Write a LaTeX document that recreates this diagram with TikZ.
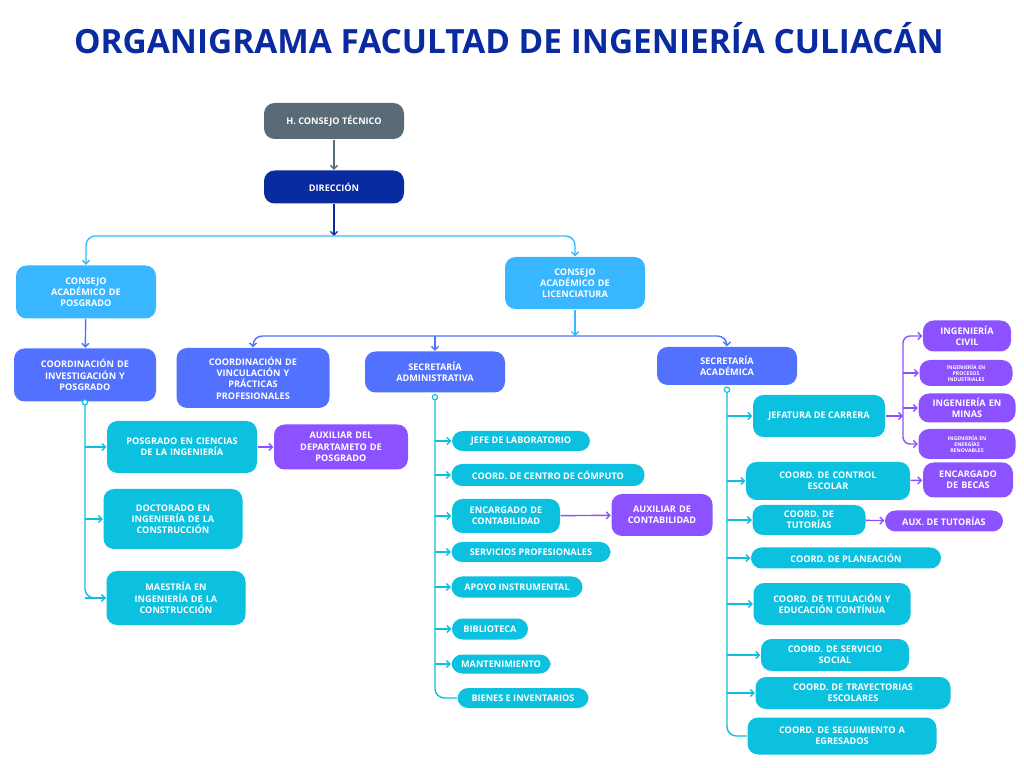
\documentclass[tikz,border=0pt]{standalone}
\usepackage{fontspec}
\setmainfont{Open Sans}
\usetikzlibrary{arrows.meta}
\definecolor{grayb}{HTML}{5A6B78}
\definecolor{navyb}{HTML}{0A2AA0}
\definecolor{skyb}{HTML}{38B6FF}
\definecolor{perib}{HTML}{5271FF}
\definecolor{cyanb}{HTML}{0CC0DF}
\definecolor{purpb}{HTML}{8C52FF}
\begin{document}
\begin{tikzpicture}[x=0.03cm, y=-0.03cm, line width = 1.2pt,
                    >={Straight Barb[length=3pt,width=6pt]},
                    box/.style = {rounded corners=9pt, text=white, align=center,
                                  font=\bfseries\fontsize{7.8}{9.6}\selectfont, inner sep=1pt},
                    grey box/.style = {box, fill=grayb},
                    navy box/.style = {box, fill=navyb},
                    sky box/.style = {box, fill=skyb},
                    peri box/.style = {box, fill=perib},
                    cyan box/.style = {box, fill=cyanb},
                    purple box/.style = {box, fill=purpb},
                    tiny/.style = {font=\bfseries\fontsize{4.4}{5.4}\selectfont},
                    dot/.style = {circle, draw=cyanb, fill=white, line width=1pt, inner sep=1.6pt}]
      \useasboundingbox (0,0) rectangle (1024,768);
      \node [text=navyb, font=\bfseries\fontsize{28.5}{32}\selectfont] (title) at (509,38) {ORGANIGRAMA FACULTAD DE INGENIERÍA CULIACÁN};

      % top levels
      \node [grey box, minimum width=140*0.03cm, minimum height=36*0.03cm] (hct) at (334,121) {H. CONSEJO TÉCNICO};
      \node [navy box, minimum width=140*0.03cm, minimum height=33*0.03cm] (dir) at (334,187) {DIRECCIÓN};
      \coordinate (busA) at (334,236);
      \node [sky box, minimum width=140*0.03cm, minimum height=53*0.03cm, text width=3cm] (cap) at (86,292) {CONSEJO\\ACADÉMICO DE\\POSGRADO};
      \node [sky box, minimum width=140*0.03cm, minimum height=52*0.03cm, text width=3cm] (cal) at (575,283) {CONSEJO\\ACADÉMICO DE\\LICENCIATURA};
      \coordinate (busB) at (575,336);

      \node [peri box, minimum width=142*0.03cm, minimum height=53*0.03cm, text width=4cm] (cip) at (85,375) {COORDINACIÓN DE\\INVESTIGACIÓN Y\\POSGRADO};
      \node [peri box, minimum width=153*0.03cm, minimum height=60*0.03cm, text width=4.4cm] (cvp) at (253,378) {COORDINACIÓN DE\\VINCULACIÓN Y\\PRÁCTICAS\\PROFESIONALES};
      \node [peri box, minimum width=140*0.03cm, minimum height=41*0.03cm, text width=4cm] (sadm) at (435,372) {SECRETARÍA\\ADMINISTRATIVA};
      \node [peri box, minimum width=140*0.03cm, minimum height=38*0.03cm, text width=4cm] (saca) at (727,366) {SECRETARÍA\\ACADÉMICA};

      % posgrado
      \node [cyan box, minimum width=150*0.03cm, minimum height=52*0.03cm, text width=4.3cm] (pci) at (182,447) {POSGRADO EN CIENCIAS\\DE LA INGENIERÍA};
      \node [purple box, minimum width=134*0.03cm, minimum height=45*0.03cm, text width=3.9cm] (auxp) at (341,447) {AUXILIAR DEL\\DEPARTAMETO DE\\POSGRADO};
      \node [cyan box, minimum width=139*0.03cm, minimum height=60*0.03cm, text width=4cm] (doc) at (173,519) {DOCTORADO EN\\INGENIERÍA DE LA\\CONSTRUCCIÓN};
      \node [cyan box, minimum width=139*0.03cm, minimum height=54*0.03cm, text width=4cm] (mae) at (176,598) {MAESTRÍA EN\\INGENIERÍA DE LA\\CONSTRUCCIÓN};

      % administrativa
      \node [cyan box, minimum width=138*0.03cm, minimum height=20*0.03cm] (jefe) at (521,441) {JEFE DE LABORATORIO};
      \node [cyan box, minimum width=193*0.03cm, minimum height=22*0.03cm] (ccc) at (548,475) {COORD. DE CENTRO DE CÓMPUTO};
      \node [cyan box, minimum width=108*0.03cm, minimum height=34*0.03cm, text width=3cm] (enc) at (506,516) {ENCARGADO DE\\CONTABILIDAD};
      \node [purple box, minimum width=101*0.03cm, minimum height=42*0.03cm, text width=2.9cm] (auxc) at (662,515) {AUXILIAR DE\\CONTABILIDAD};
      \node [cyan box, minimum width=159*0.03cm, minimum height=20*0.03cm] (serv) at (531,552) {SERVICIOS PROFESIONALES};
      \node [cyan box, minimum width=131*0.03cm, minimum height=21*0.03cm] (apo) at (517,587) {APOYO INSTRUMENTAL};
      \node [cyan box, minimum width=76*0.03cm, minimum height=21*0.03cm] (bib) at (490,629) {BIBLIOTECA};
      \node [cyan box, minimum width=99*0.03cm, minimum height=19*0.03cm] (mant) at (501,664) {MANTENIMIENTO};
      \node [cyan box, minimum width=131*0.03cm, minimum height=20*0.03cm] (bien) at (523,698) {BIENES E INVENTARIOS};

      % academica
      \node [cyan box, minimum width=132*0.03cm, minimum height=42*0.03cm] (jef) at (819,416) {JEFATURA DE CARRERA};
      \node [cyan box, minimum width=164*0.03cm, minimum height=38*0.03cm, text width=4.6cm] (cop) at (828,481) {COORD. DE CONTROL\\ESCOLAR};
      \node [cyan box, minimum width=113*0.03cm, minimum height=30*0.03cm, text width=3.2cm] (cot) at (809,520) {COORD. DE\\TUTORÍAS};
      \node [cyan box, minimum width=190*0.03cm, minimum height=21*0.03cm] (plan) at (846,558) {COORD. DE PLANEACIÓN};
      \node [cyan box, minimum width=157*0.03cm, minimum height=42*0.03cm, text width=4.5cm] (tit) at (832,604) {COORD. DE TITULACIÓN Y\\EDUCACIÓN CONTÍNUA};
      \node [cyan box, minimum width=148*0.03cm, minimum height=32*0.03cm, text width=4.2cm] (ssoc) at (835,655) {COORD. DE SERVICIO\\SOCIAL};
      \node [cyan box, minimum width=195*0.03cm, minimum height=32*0.03cm, text width=5.6cm] (tray) at (853,693) {COORD. DE TRAYECTORIAS\\ESCOLARES};
      \node [cyan box, minimum width=189*0.03cm, minimum height=37*0.03cm, text width=5.4cm] (seg) at (842,736) {COORD. DE SEGUIMIENTO A\\EGRESADOS};

      \node [purple box, minimum width=88*0.03cm, minimum height=31*0.03cm, text width=2.5cm] (civ) at (967,336) {INGENIERÍA\\CIVIL};
      \node [purple box, tiny, minimum width=93*0.03cm, minimum height=26*0.03cm, text width=2.6cm] (proc) at (966,373) {INGENIERÍA EN\\PROCESOS\\INDUSTRIALES};
      \node [purple box, minimum width=97*0.03cm, minimum height=29*0.03cm, text width=2.8cm] (min) at (967,408) {INGENIERÍA EN\\MINAS};
      \node [purple box, tiny, minimum width=97*0.03cm, minimum height=30*0.03cm, text width=2.8cm] (ener) at (967,444) {INGENIERÍA EN\\ENERGÍAS\\RENOVABLES};
      \node [purple box, minimum width=90*0.03cm, minimum height=35*0.03cm, text width=2.6cm] (bec) at (968,480) {ENCARGADO\\DE BECAS};
      \node [purple box, minimum width=118*0.03cm, minimum height=21*0.03cm] (auxt) at (944,521) {AUX. DE TUTORÍAS};
      \coordinate (busC) at (903,416);

      % connectors top
      \draw [->, draw=grayb] (hct) -- (dir);
      \draw [->, draw=navyb] (dir) -- (busA);
      \draw [->, draw=skyb, rounded corners=8pt] (busA) -| (cap.north);
      \draw [->, draw=skyb, rounded corners=8pt] (busA) -| (cal.north);
      \draw [->, draw=perib] (cap) -- (cip);
      \draw [->, draw=skyb] (cal) -- (busB);
      \draw [->, draw=perib, rounded corners=8pt] (busB) -| (cvp.north);
      \draw [->, draw=perib, rounded corners=8pt] (busB) -| (saca.north);
      \draw [->, draw=perib] (busB -| sadm.north) -- (sadm.north);

      % posgrado trunk
      \node [dot] (d1) at (cip.south) {};
      \draw [draw=cyanb, rounded corners=8pt] (d1.south) |- (mae.west);
      \foreach \n in {pci, doc, mae}
        \draw [->, draw=cyanb] (d1.south |- \n.west) -- (\n.west);
      \draw [->, draw=purpb] (pci) -- (auxp);

      % administrativa trunk
      \node [dot] (d2) at ([yshift=-0.12cm]sadm.south) {};
      \draw [draw=cyanb, rounded corners=8pt] (d2.south) |- (bien.west);
      \foreach \n in {jefe, ccc, enc, serv, apo, bib, mant}
        \draw [->, draw=cyanb] (d2.south |- \n.west) -- (\n.west);
      \draw [->, draw=purpb] (enc) -- (auxc);

      % academica trunk
      \node [dot] (d3) at ([yshift=-0.12cm]saca.south) {};
      \draw [draw=cyanb, rounded corners=8pt] (d3.south) |- (seg.west);
      \foreach \n in {jef, cop, cot, plan, tit, ssoc, tray}
        \draw [->, draw=cyanb] (d3.south |- \n.west) -- (\n.west);
      \draw [->, draw=purpb] (jef) -- (busC);
      \draw [->, draw=purpb, rounded corners=6pt] (busC) |- (civ.west);
      \draw [->, draw=purpb, rounded corners=6pt] (busC) |- (ener.west);
      \draw [->, draw=purpb] (busC |- proc.west) -- (proc.west);
      \draw [->, draw=purpb] (busC |- min.west) -- (min.west);
      \draw [->, draw=purpb] (cop) -- (bec);
      \draw [->, draw=purpb] (cot) -- (auxt);
\end{tikzpicture}
\end{document}
